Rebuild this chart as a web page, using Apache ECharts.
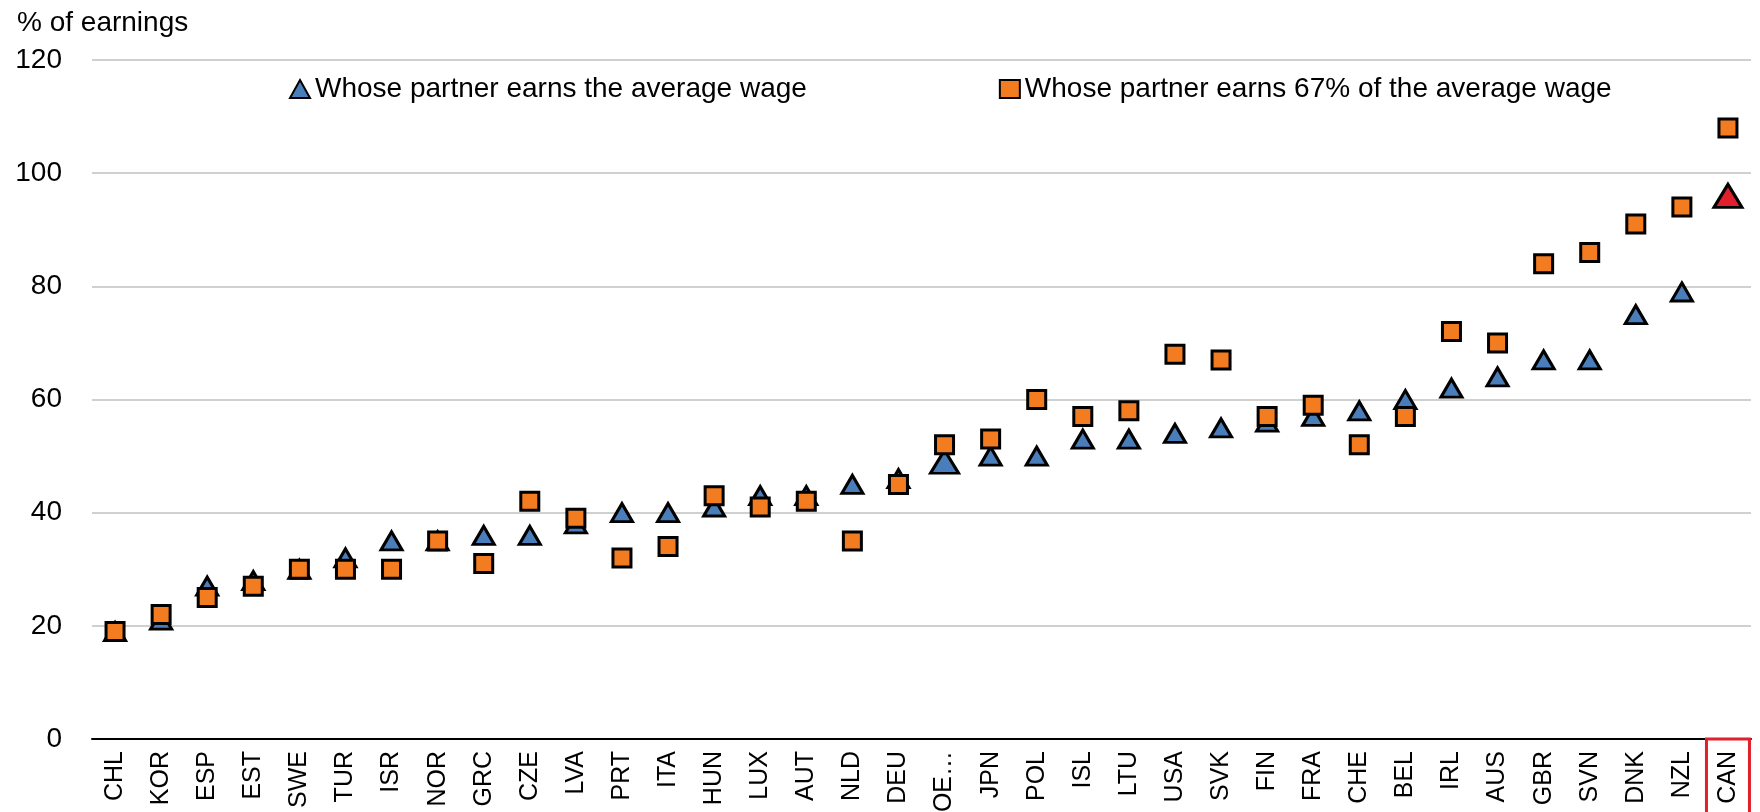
<!DOCTYPE html>
<html>
<head>
<meta charset="utf-8">
<script src="https://cdn.jsdelivr.net/npm/echarts@6/dist/echarts.min.js"></script>
<style>
html,body{margin:0;padding:0;background:#fff;}
#chart{width:1760px;height:812px;}
</style>
</head>
<body>
<div id="chart"></div>
<script>
var countries=['CHL','KOR','ESP','EST','SWE','TUR','ISR','NOR','GRC','CZE','LVA','PRT','ITA','HUN','LUX','AUT','NLD','DEU','OE\u2026','JPN','POL','ISL','LTU','USA','SVK','FIN','FRA','CHE','BEL','IRL','AUS','GBR','SVN','DNK','NZL','CAN'];
// partner earns the average wage
var avgWage=[19,21,27,28,30,32,35,35,36,36,38,40,40,41,43,43,45,46,49,50,50,53,53,54,55,56,57,58,60,62,64,67,67,75,79,96];
// partner earns 67% of the average wage
var wage67=[19,22,25,27,30,30,30,35,31,42,39,32,34,43,41,42,35,45,52,53,60,57,58,68,67,57,59,52,57,72,70,84,86,91,94,108];
var yTicks=[0,20,40,60,80,100,120];

var myChart=echarts.init(document.getElementById('chart'));
var font='Liberation Sans, Arial, sans-serif';

//三角形数据，OECD和CAN单独样式
var triData=avgWage.map(function(v,i){
	if(countries[i]=='CAN'){
		return {value:v,symbolSize:[28,23],itemStyle:{color:'#e0202a'}};
	}
	if(countries[i]=='OE\u2026'){
		return {value:v,symbolSize:[28,23]};
	}
	return v;
});

var option={
	animation:false,
	textStyle:{fontFamily:font,color:'#000'},
	title:{
		text:'% of earnings',
		left:12,
		top:4,
		textStyle:{fontFamily:font,fontSize:28,fontWeight:'normal',color:'#000'}
	},
	legend:{
		top:70,
		left:284,
		itemGap:192,
		itemWidth:20,
		itemHeight:18,
		textStyle:{fontFamily:font,fontSize:28,color:'#000'},
		data:[
			{name:'Whose partner earns the average wage',icon:'triangle'},
			{name:'Whose partner earns 67% of the average wage',icon:'rect'}
		]
	},
	grid:{left:92,right:9,top:60,bottom:73,outerBoundsMode:'none'},
	xAxis:{
		type:'category',
		data:countries,
		axisLine:{lineStyle:{color:'#000',width:2}},
		axisTick:{inside:true,length:8,lineStyle:{color:'#000',width:2}},
		axisLabel:{
			rotate:90,
			interval:0,
			margin:0,
			color:'#000',
			fontFamily:font,
			fontSize:25,
			formatter:function(v){
				return v=='CAN' ? '{hl|'+v+'}' : '{n|'+v+'}';
			},
			rich:{
				n:{fontFamily:font,fontSize:25,color:'#000',lineHeight:27,padding:[9,12,9,12]},
				hl:{fontFamily:font,fontSize:25,color:'#000',lineHeight:27,padding:[9,12,9,12],
					borderColor:'#e0202a',borderWidth:3}
			}
		}
	},
	yAxis:{
		type:'value',
		min:yTicks[0],
		max:yTicks[yTicks.length-1],
		interval:20,
		axisLine:{show:false},
		axisTick:{show:false},
		axisLabel:{color:'#000',fontFamily:font,fontSize:28,margin:30},
		splitLine:{lineStyle:{color:'#d0d0d0',width:2}}
	},
	series:[{
		name:'Whose partner earns the average wage',
		type:'scatter',
		symbol:'triangle',
		symbolSize:[21,18],
		itemStyle:{color:'#4a7ebb',borderColor:'#000',borderWidth:3,opacity:1},
		data:triData,
		z:2
	},{
		name:'Whose partner earns 67% of the average wage',
		type:'scatter',
		symbol:'rect',
		symbolSize:18,
		itemStyle:{color:'#f47c20',borderColor:'#000',borderWidth:3,opacity:1},
		data:wage67,
		z:3
	}]
};
myChart.setOption(option);
</script>
</body>
</html>
